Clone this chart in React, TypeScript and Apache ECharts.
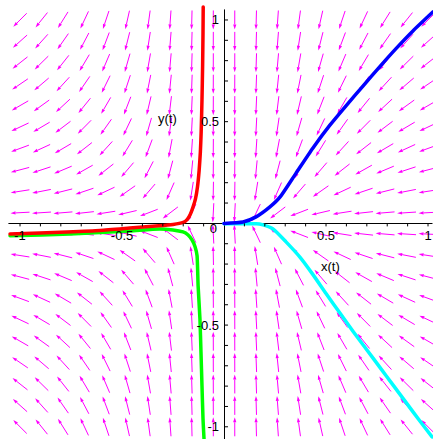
import React, { useEffect, useRef } from "react";
import * as echarts from "echarts";

// Direction-field grid (Maple dirgrid 20 x 20 over [-1,1])
const GRID_VALUES = [
  -1, -0.8947, -0.7895, -0.6842, -0.5789, -0.4737, -0.3684, -0.2632, -0.1579, -0.0526,
  0.0526, 0.1579, 0.2632, 0.3684, 0.4737, 0.5789, 0.6842, 0.7895, 0.8947, 1,
];

// Axis ticks and labels
const TICK_VALUES = [
  -1, -0.9, -0.8, -0.7, -0.6, -0.5, -0.4, -0.3, -0.2, -0.1,
  0.1, 0.2, 0.3, 0.4, 0.5, 0.6, 0.7, 0.8, 0.9, 1,
];
const X_LABELS = [-1, -0.5, 0.5, 1];
const Y_LABELS = [-1, -0.5, 0.5, 1];
const ORIGIN_LABEL = "0";
const X_TITLE = "x(t)";
const Y_TITLE = "y(t)";

// Trajectories
const RED_X = [-1.049, -0.77, -0.608, -0.446, -0.32, -0.25, -0.2, -0.18, -0.165, -0.152, -0.14, -0.13, -0.122, -0.116, -0.112, -0.108, -0.105, -0.103, -0.102];
const RED_Y = [-0.052, -0.042, -0.035, -0.022, -0.012, -0.005, 0.005, 0.02, 0.045, 0.08, 0.12, 0.18, 0.26, 0.35, 0.45, 0.607, 0.77, 0.936, 1.064];

const GREEN_X = [-1.049, -0.755, -0.461, -0.314, -0.25, -0.201, -0.176, -0.157, -0.142, -0.132, -0.127, -0.118, -0.113, -0.108, -0.103, -0.098];
const GREEN_Y = [-0.061, -0.052, -0.037, -0.027, -0.032, -0.042, -0.057, -0.081, -0.115, -0.16, -0.307, -0.469, -0.631, -0.799, -0.961, -1.06];

const BLUE_X = [0, 0.093, 0.157, 0.225, 0.275, 0.353, 0.436, 0.52, 0.598, 0.681, 0.765, 0.843, 0.926, 1.025];
const BLUE_Y = [0, 0.007, 0.032, 0.081, 0.13, 0.247, 0.371, 0.484, 0.578, 0.675, 0.772, 0.859, 0.946, 1.04];

const CYAN_X = [0, 0.157, 0.191, 0.24, 0.304, 0.373, 0.436, 0.5, 0.569, 0.632, 0.696, 0.765, 0.828, 0.892, 0.961, 1.02];
const CYAN_Y = [-0.002, -0.002, -0.007, -0.027, -0.091, -0.167, -0.252, -0.345, -0.442, -0.53, -0.616, -0.709, -0.794, -0.88, -0.973, -1.05];

// The system being plotted: x' = -x^2, y' = -y
const fieldDx = (x: number, _y: number) => -x * x;
const fieldDy = (_x: number, y: number) => -y;

const zip = (xs: number[], ys: number[]) => xs.map((x, i) => [x, ys[i]]);

const MAGENTA = "#ff00ff";
const FONT = '13px "Liberation Sans", Arial, sans-serif';

export default function App() {
  const ref = useRef<HTMLDivElement>(null);

  useEffect(() => {
    if (!ref.current) return;
    const chart = echarts.init(ref.current, null, { renderer: "svg" });

    const gridPoints: number[][] = [];
    for (const gx of GRID_VALUES) for (const gy of GRID_VALUES) gridPoints.push([gx, gy]);

    const lineSeries = (name: string, data: number[][], color: string, width: number, z: number) => ({
      type: "line",
      name,
      data,
      showSymbol: false,
      symbol: "none",
      smooth: 0.2,
      clip: false,
      z,
      lineStyle: { color, width, cap: "round", join: "round" },
    });

    chart.setOption({
      animation: false,
      backgroundColor: "#ffffff",
      grid: { left: 8.8, top: 9.8, width: 423.3, height: 429.4, containLabel: false },
      xAxis: {
        type: "value",
        min: -1.055,
        max: 1.02,
        axisLine: { onZero: true, lineStyle: { color: "#000", width: 1 } },
        axisTick: { show: false },
        axisLabel: { show: false },
        splitLine: { show: false },
      },
      yAxis: {
        type: "value",
        min: -1.06,
        max: 1.05,
        axisLine: { onZero: true, lineStyle: { color: "#000", width: 1 } },
        axisTick: { show: false },
        axisLabel: { show: false },
        splitLine: { show: false },
      },
      series: [
        {
          type: "custom",
          name: "field",
          data: gridPoints,
          z: 1,
          silent: true,
          renderItem: (params: any, api: any) => {
            const x = api.value(0);
            const y = api.value(1);
            const c = api.coord([x, y]);
            const vx = fieldDx(x, y);
            const vy = fieldDy(x, y);
            const p2 = api.coord([x + vx * 0.01, y + vy * 0.01]);
            let dx = p2[0] - c[0];
            let dy = p2[1] - c[1];
            const n = Math.hypot(dx, dy) || 1;
            dx /= n;
            dy /= n;
            const L = 9.5;
            const tail = [c[0] - dx * L, c[1] - dy * L];
            const head = [c[0] + dx * L, c[1] + dy * L];
            const hl = 5;
            const hw = 1.6;
            const base = [head[0] - dx * hl, head[1] - dy * hl];
            const left = [base[0] - dy * hw, base[1] + dx * hw];
            const right = [base[0] + dy * hw, base[1] - dx * hw];
            return {
              type: "group",
              children: [
                {
                  type: "line",
                  shape: { x1: tail[0], y1: tail[1], x2: base[0], y2: base[1] },
                  style: { stroke: MAGENTA, lineWidth: 1 },
                },
                {
                  type: "polygon",
                  shape: { points: [head, left, right] },
                  style: { fill: MAGENTA },
                },
              ],
            };
          },
        },
        {
          type: "custom",
          name: "ticks",
          data: TICK_VALUES.map((v) => [v]),
          z: 5,
          silent: true,
          renderItem: (params: any, api: any) => {
            const v = api.value(0);
            const px = api.coord([v, 0]);
            const py = api.coord([0, v]);
            return {
              type: "group",
              children: [
                {
                  type: "line",
                  shape: { x1: px[0], y1: px[1], x2: px[0], y2: px[1] + 3 },
                  style: { stroke: "#000", lineWidth: 1 },
                },
                {
                  type: "line",
                  shape: { x1: py[0], y1: py[1], x2: py[0] + 4, y2: py[1] },
                  style: { stroke: "#000", lineWidth: 1 },
                },
              ],
            };
          },
        },
        {
          type: "custom",
          name: "xlabels",
          data: X_LABELS.map((v) => [v]),
          z: 6,
          silent: true,
          renderItem: (params: any, api: any) => {
            const v = api.value(0);
            const p = api.coord([v, 0]);
            return {
              type: "text",
              x: p[0],
              y: p[1] + 6,
              style: { text: String(v), fill: "#000", font: FONT, align: "center", verticalAlign: "top" },
            };
          },
        },
        {
          type: "custom",
          name: "ylabels",
          data: Y_LABELS.map((v) => [v]),
          z: 6,
          silent: true,
          renderItem: (params: any, api: any) => {
            const v = api.value(0);
            const p = api.coord([0, v]);
            return {
              type: "text",
              x: p[0] - 5,
              y: p[1],
              style: { text: String(v), fill: "#000", font: FONT, align: "right", verticalAlign: "middle" },
            };
          },
        },
        {
          type: "custom",
          name: "origin",
          data: [[0, 0]],
          z: 6,
          silent: true,
          renderItem: (params: any, api: any) => {
            const p = api.coord([api.value(0), api.value(1)]);
            return {
              type: "text",
              x: p[0] - 7,
              y: p[1] + 5,
              style: { text: ORIGIN_LABEL, fill: "#000", font: FONT, align: "right", verticalAlign: "middle" },
            };
          },
        },
        lineSeries("cyan", zip(CYAN_X, CYAN_Y), "#00ffff", 3.5, 3),
        lineSeries("blue", zip(BLUE_X, BLUE_Y), "#0000ff", 3.5, 4),
        lineSeries("green", zip(GREEN_X, GREEN_Y), "#00ff00", 3.5, 3),
        lineSeries("red", zip(RED_X, RED_Y), "#ff0000", 3.5, 4),
      ],
      graphic: [
        {
          type: "text",
          left: 321,
          top: 260,
          z: 10,
          style: { text: X_TITLE, fill: "#000", font: FONT },
        },
        {
          type: "text",
          left: 158,
          top: 112,
          z: 10,
          style: { text: Y_TITLE, fill: "#000", font: FONT },
        },
      ],
    });

    return () => chart.dispose();
  }, []);

  return (
    <div
      ref={ref}
      style={{ position: "fixed", left: 0, top: 0, width: 433, height: 439, background: "#fff" }}
    />
  );
}
